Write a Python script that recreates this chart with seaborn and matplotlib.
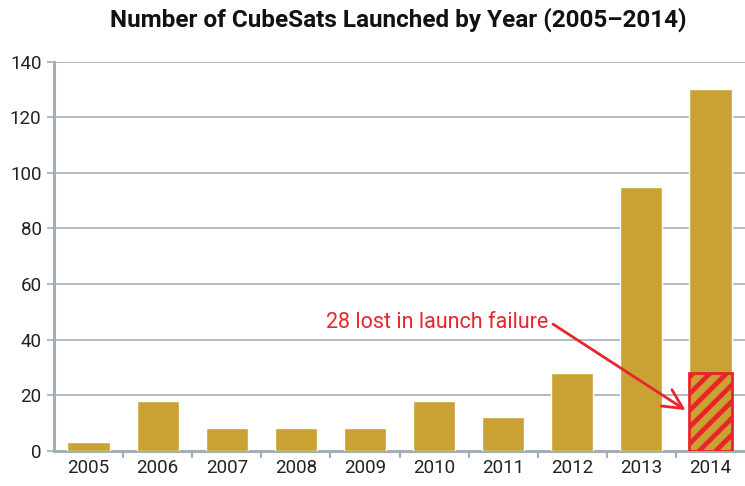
import matplotlib
matplotlib.use("Agg")
import matplotlib.pyplot as plt
import seaborn as sns
import pandas as pd

years = ["2005", "2006", "2007", "2008", "2009", "2010", "2011", "2012", "2013", "2014"]
launched = [3, 18, 8, 8, 8, 18, 12, 28, 95, 130]
lost_year = "2014"
lost_count = 28
y_ticks = [0, 20, 40, 60, 80, 100, 120, 140]

sns.set_theme(style="white")
plt.rcParams["font.family"] = ["Roboto", "DejaVu Sans"]
plt.rcParams["hatch.linewidth"] = 3.4

gold = "#C9A233"
red = "#E8252B"
grid_c = "#A3AFB6"
text_c = "#222222"

df = pd.DataFrame({"year": years, "count": launched})

fig = plt.figure(figsize=(7.45, 4.86), dpi=100)
ax = fig.add_axes([0.0725, 0.0726, 0.9275, 0.8005])

sns.barplot(data=df, x="year", y="count", color=gold, saturation=1,
            width=0.61, ax=ax, zorder=3)

# Satellites lost in the launch failure, drawn over the base of that year's bar
xi = years.index(lost_year)
ax.bar(xi, lost_count, width=0.61, facecolor=gold, edgecolor=red,
       hatch="//", linewidth=2, zorder=4)

ax.set_xlim(-0.5, len(years) - 0.5)
ax.set_ylim(0, 140)
ax.set_yticks(y_ticks)
ax.yaxis.grid(True, color=grid_c, linewidth=1.2, zorder=0)
ax.set_axisbelow(True)

for s in ["top", "right"]:
    ax.spines[s].set_visible(False)
ax.spines["left"].set_color(grid_c)
ax.spines["left"].set_linewidth(2.2)
ax.spines["bottom"].set_color(grid_c)
ax.spines["bottom"].set_linewidth(2.2)

ax.tick_params(axis="y", length=5, width=1.2, color=grid_c, labelsize=13.5,
               labelcolor=text_c, pad=4, left=True)
ax.tick_params(axis="x", length=0, labelsize=13.5, labelcolor=text_c, pad=6)
ax.set_xticks(range(len(years)))
ax.set_xticks([i + 0.5 for i in range(len(years) - 1)], minor=True)
ax.tick_params(axis="x", which="minor", length=5, width=1.5, color=grid_c,
               bottom=True, direction="out")
ax.set_xlabel("")
ax.set_ylabel("")

ax.annotate(f"{lost_count} lost in launch failure",
            xy=(xi - 0.36, 14.6), xytext=(5.05, 46.3),
            color=red, fontsize=15.5, ha="center", va="center",
            arrowprops=dict(arrowstyle="->,head_length=0.9,head_width=0.45",
                            color=red, lw=2, shrinkA=0, shrinkB=0,
                            relpos=(1.02, 0.4)))

fig.suptitle("Number of CubeSats Launched by Year (2005–2014)",
             x=0.535, y=0.985, fontsize=17.5, fontweight="bold", color="#111111")

fig.savefig("out.png", dpi=100, facecolor="white")
